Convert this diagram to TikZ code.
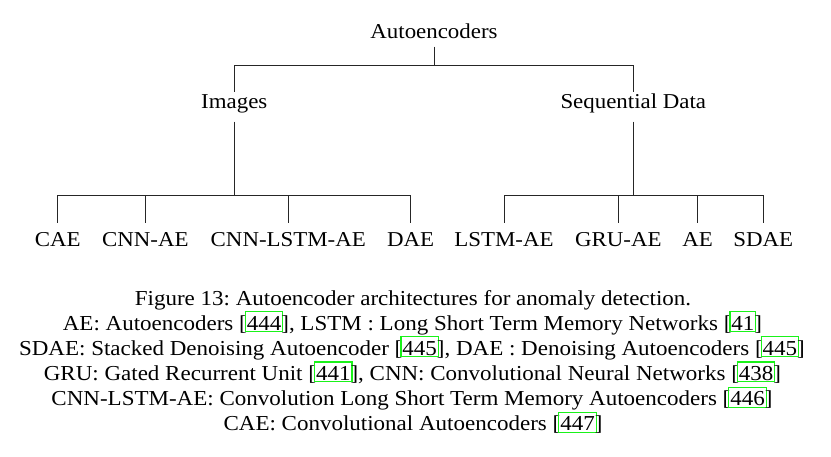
\documentclass[tikz,border=0pt]{standalone}
\usepackage{fontspec}
\setmainfont{Liberation Serif}[FakeStretch=1.08]
\usepackage{xcolor}
\definecolor{citegreen}{rgb}{0.1,0.95,0.1}
\definecolor{linegray}{rgb}{0.15,0.15,0.15}
\frenchspacing
\newcommand\citebox[1]{\leavevmode\setbox0\hbox{#1}%
  \rlap{\kern-2pt{\color{citegreen}\setlength\fboxsep{0pt}\setlength\fboxrule{1.1pt}%
  \fbox{\vrule width 0pt height 17.9pt depth 0.9pt\hbox to \dimexpr\wd0+1.8pt\relax{}}}}%
  \box0}
\begin{document}
\begin{tikzpicture}[x=1pt,y=-1pt,
  lbl/.style={anchor=base, inner sep=0pt, font=\fontsize{21.2}{25}\selectfont},
  captext/.style={lbl, font=\fontsize{21.3}{25}\selectfont},
  conn/.style={line width=0.9pt, draw=linegray}]
\useasboundingbox (0,0) rectangle (831,456);
% tree nodes
\node[lbl] (root) at (434,38.3) {Autoencoders};
\node[lbl] (img) at (234.3,108) {Images};
\node[lbl] (seq) at (633.3,108) {Sequential Data};
\node[lbl] (cae) at (57.7,246.7) {CAE};
\node[lbl] (cnnae) at (145.3,246.7) {CNN-AE};
\node[lbl] (cnnlstm) at (288.3,246.7) {CNN-LSTM-AE};
\node[lbl] (dae) at (410.7,246.7) {DAE};
\node[lbl] (lstmae) at (504,246.7) {LSTM-AE};
\node[lbl] (gruae) at (618.3,246.7) {GRU-AE};
\node[lbl] (ae) at (697.7,246.7) {AE};
\node[lbl] (sdae) at (763.3,246.7) {SDAE};
% junctions
\coordinate (j0) at (434,65);
\coordinate (j1) at (234.3,195.7);
\coordinate (j2) at (633.3,195.7);
% connectors
\draw[conn] ([yshift=-8.4pt]root.base) -- (j0);
\draw[conn] (j0) -| ([yshift=16.3pt]img.base);
\draw[conn] (j0) -| ([yshift=16.3pt]seq.base);
\draw[conn] ([yshift=-13.7pt]img.base) -- (j1);
\draw[conn] ([yshift=-13.7pt]seq.base) -- (j2);
\foreach \n in {cae,cnnae,cnnlstm,dae}
  \draw[conn] (j1) -| ([yshift=24pt]\n.base);
\foreach \n in {lstmae,gruae,ae,sdae}
  \draw[conn] (j2) -| ([yshift=24pt]\n.base);
% caption
\node[captext] (cap1) at (413,305) {Figure 13: Autoencoder architectures for anomaly detection.};
\node[captext] (cap2) at (412.5,330.1) {AE: Autoencoders [\citebox{444}], LSTM : Long Short Term Memory Networks [\citebox{41}]};
\node[captext] (cap3) at (412,355.3) {SDAE: Stacked Denoising Autoencoder [\citebox{445}], DAE : Denoising Autoencoders [\citebox{445}]};
\node[captext] (cap4) at (412.5,380.4) {GRU: Gated Recurrent Unit [\citebox{441}], CNN: Convolutional Neural Networks [\citebox{438}]};
\node[captext] (cap5) at (412,405.6) {CNN-LSTM-AE: Convolution Long Short Term Memory Autoencoders [\citebox{446}]};
\node[captext] (cap6) at (413,430.7) {CAE: Convolutional Autoencoders [\citebox{447}]};
\end{tikzpicture}
\end{document}
